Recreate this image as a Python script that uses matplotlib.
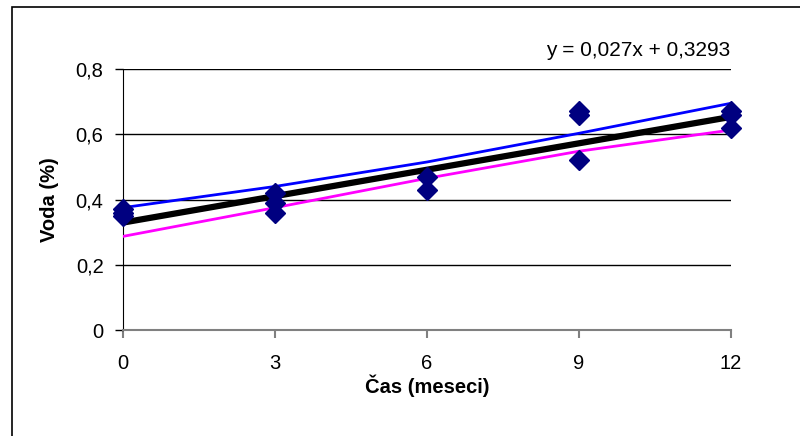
import matplotlib.pyplot as plt
from matplotlib.patches import Rectangle

# meritve vode po mesecih
cas = [0, 0, 0, 3, 3, 3, 6, 6, 9, 9, 9, 12, 12, 12]
voda = [0.37, 0.36, 0.35, 0.42, 0.39, 0.36, 0.47, 0.43,
        0.67, 0.66, 0.52, 0.67, 0.66, 0.62]

# zgornja in spodnja meja
meseci = [0, 3, 6, 9, 12]
zgornja = [0.375, 0.44, 0.515, 0.603, 0.695]
spodnja = [0.287, 0.375, 0.465, 0.548, 0.613]

# linearni trend
k = 0.027
n = 0.3293

y_ticks = [0, 0.2, 0.4, 0.6, 0.8]
y_labels = ['0', '0,2', '0,4', '0,6', '0,8']

plt.rcParams['font.family'] = ['Liberation Sans', 'DejaVu Sans']

fig = plt.figure(figsize=(8, 4.36), dpi=100)
ax = fig.add_axes([0.15375, 0.2431, 0.76, 0.5986])

# okvir grafa
fig.patches.append(Rectangle((12 / 800, -0.1), 1.2, 1 - 7 / 436 + 0.1,
                             transform=fig.transFigure, fill=False,
                             edgecolor='black', linewidth=1.2))

for yt in y_ticks[1:]:
    ax.axhline(yt, color='black', linewidth=1.0, zorder=1)

ax.plot(meseci, zgornja, color='#0000ff', linewidth=2, zorder=3)
ax.plot(meseci, spodnja, color='#ff00ff', linewidth=2, zorder=3)
trend = [k * m + n for m in meseci]
ax.plot(meseci, trend, color='black', linewidth=4.5, zorder=4)
ax.plot(cas, voda, linestyle='none', marker='D', markersize=10,
        color='#000080', zorder=5, clip_on=False)

ax.set_xlim(0, 12)
ax.set_ylim(0, 0.8)
ax.set_xticks(meseci)
ax.set_xticklabels([str(m) for m in meseci])
ax.set_yticks(y_ticks)
ax.set_yticklabels(y_labels)

for s in ['top', 'right']:
    ax.spines[s].set_visible(False)
ax.spines['left'].set_color('black')
ax.spines['bottom'].set_color('#808080')
ax.spines['bottom'].set_linewidth(1.5)
ax.tick_params(axis='y', direction='out', length=6, width=1, pad=8,
               labelsize=14.5)
ax.tick_params(axis='x', direction='out', length=6, width=1.5,
               color='#808080', pad=11, labelsize=14.5)

ax.set_xlabel('Čas (meseci)', fontsize=14.5, fontweight='bold', labelpad=1)
ax.set_ylabel('Voda (%)', fontsize=14.5, fontweight='bold', labelpad=12)

fig.text(730 / 800, 1 - 50 / 436, 'y = 0,027x + 0,3293', fontsize=15,
         ha='right', va='center')

plt.savefig('out.png', dpi=100)
